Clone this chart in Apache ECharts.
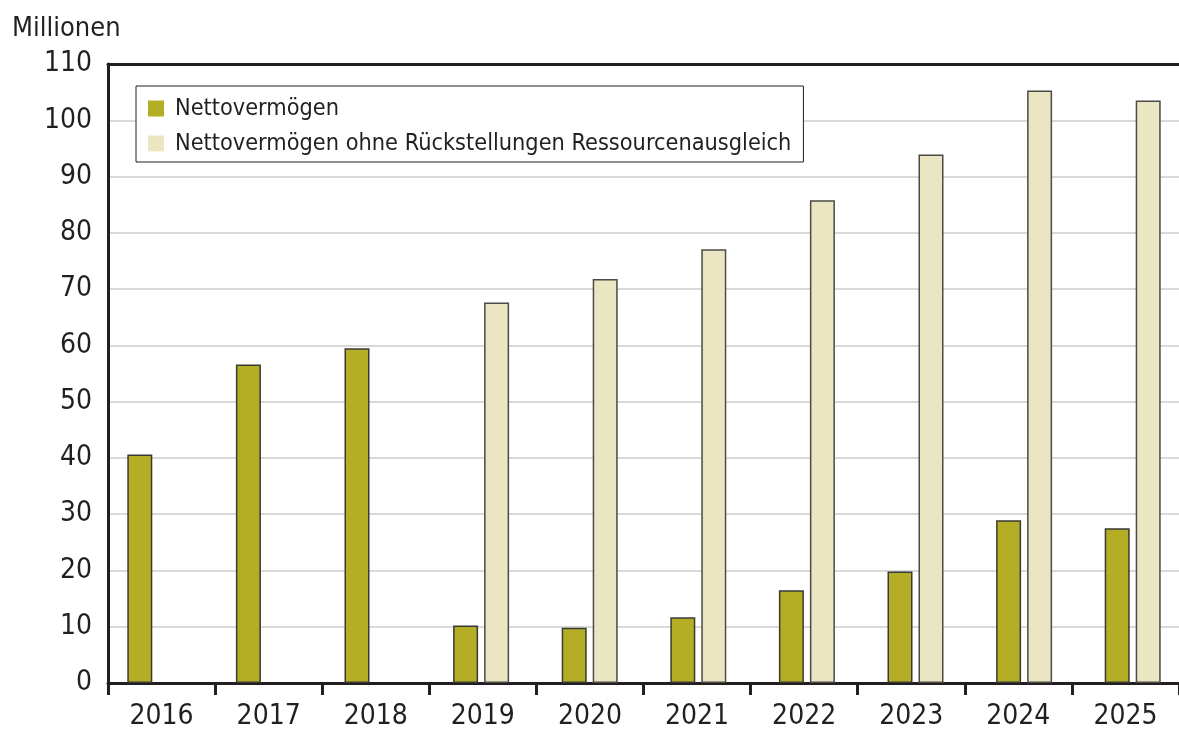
<!DOCTYPE html>
<html>
<head>
<meta charset="utf-8">
<script src="https://cdn.jsdelivr.net/npm/echarts@6/dist/echarts.min.js"></script>
<style>
html, body { margin: 0; padding: 0; background: #fff; }
#main { width: 1179px; height: 731px; }
</style>
</head>
<body>
<div id="main"></div>
<script>
// Daten
var jahre = ['2016', '2017', '2018', '2019', '2020', '2021', '2022', '2023', '2024', '2025'];
var nettovermoegen = [40.6, 56.6, 59.5, 10.2, 9.8, 11.7, 16.5, 19.8, 28.9, 27.5];
var ohneRueckstellungen = [null, null, null, 67.6, 71.8, 77.1, 85.8, 93.9, 105.3, 103.5];
var yTicks = [0, 10, 20, 30, 40, 50, 60, 70, 80, 90, 100, 110];

var schrift = '"DejaVu Sans Condensed", "DejaVu Sans", sans-serif';
var dunkel = '#231f20';

var myChart = echarts.init(document.getElementById('main'));
var option = {
	animation: false,
	textStyle: { fontFamily: schrift },
	// grid 0: Achsen, grid 1: Balken (leicht andere Teilung wie im Original)
	grid: [
		{ left: 108, right: 0, top: 64, bottom: 48, containLabel: false },
		{ left: 101, right: -8, top: 64, bottom: 48, containLabel: false, outerBoundsMode: 'none' }
	],
	legend: {
		orient: 'vertical',
		left: 136,
		top: 86,
		padding: [11, 12, 7, 12],
		itemWidth: 16,
		itemHeight: 16,
		itemGap: 12,
		backgroundColor: '#fff',
		borderColor: dunkel,
		borderWidth: 1,
		icon: 'rect',
		itemStyle: { borderWidth: 0 },
		textStyle: { fontSize: 23.3, color: dunkel, fontFamily: schrift, lineHeight: 20, padding: [0, 0, 0, 6] },
		data: ['Nettovermögen', 'Nettovermögen ohne Rückstellungen Ressourcenausgleich']
	},
	xAxis: [{
		type: 'category',
		gridIndex: 0,
		data: jahre,
		axisLine: { lineStyle: { color: dunkel, width: 3 } },
		axisTick: { show: true, interval: 0, length: 12, lineStyle: { color: dunkel, width: 3 } },
		axisLabel: { fontSize: 28, color: dunkel, margin: 20, fontFamily: schrift },
		splitLine: { show: false }
	}, {
		type: 'category',
		gridIndex: 0,
		position: 'top',
		data: jahre,
		axisLine: { lineStyle: { color: dunkel, width: 3 } },
		axisTick: { show: false },
		axisLabel: { show: false }
	}, {
		type: 'category',
		gridIndex: 1,
		data: jahre,
		show: false
	}],
	yAxis: [{
		type: 'value',
		gridIndex: 0,
		min: 0,
		max: 110,
		interval: 10,
		name: 'Millionen',
		nameLocation: 'end',
		nameGap: 22,
		nameTextStyle: { fontSize: 27, color: dunkel, align: 'left', padding: [0, 0, 0, -96], fontFamily: schrift },
		axisLine: { show: true, lineStyle: { color: dunkel, width: 3 } },
		axisTick: { show: false },
		axisLabel: {
			fontSize: 28, color: dunkel, margin: 16, fontFamily: schrift,
			formatter: function(v) { return yTicks.indexOf(v) >= 0 ? String(v) : ''; }
		},
		splitLine: { lineStyle: { color: '#d9d9d9', width: 2 } }
	}, {
		type: 'value',
		gridIndex: 1,
		min: 0,
		max: 110,
		interval: 10,
		show: false,
		splitLine: { show: false }
	}],
	series: [{
		name: 'Nettovermögen',
		type: 'bar',
		xAxisIndex: 2,
		yAxisIndex: 1,
		data: nettovermoegen,
		barWidth: 25,
		barGap: '24%',
		z: 3,
		itemStyle: { color: '#b4ae26', borderColor: '#3a3a34', borderWidth: 1.5 }
	}, {
		name: 'Nettovermögen ohne Rückstellungen Ressourcenausgleich',
		type: 'bar',
		xAxisIndex: 2,
		yAxisIndex: 1,
		data: ohneRueckstellungen,
		barWidth: 25,
		barGap: '24%',
		z: 3,
		itemStyle: { color: '#ebe6c2', borderColor: '#4a4a46', borderWidth: 1.5 }
	}]
};
myChart.setOption(option);
</script>
</body>
</html>
